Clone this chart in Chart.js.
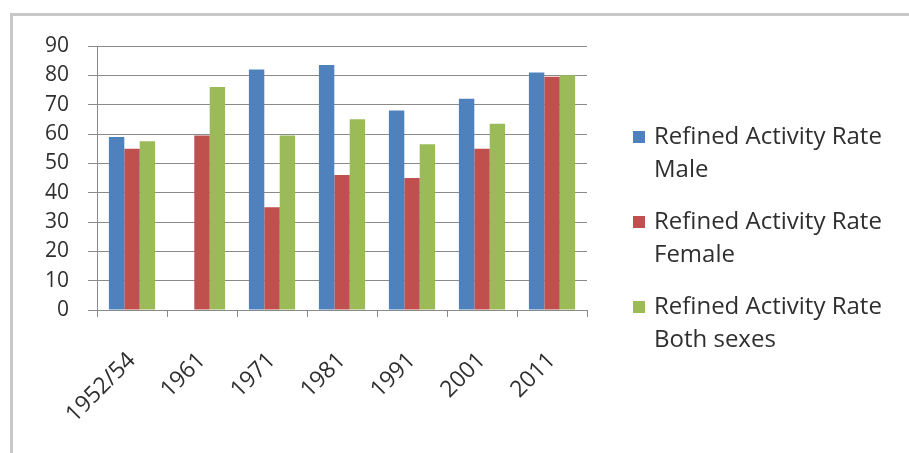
<!DOCTYPE html>
<html>
<head>
<meta charset="utf-8">
<script src="https://cdn.jsdelivr.net/npm/chart.js@4/dist/chart.umd.min.js"></script>
<style>
  html, body { margin: 0; padding: 0; background: #fff; }
  #wrap { width: 909px; height: 453px; position: relative; }
</style>
</head>
<body>
<div id="wrap"><canvas id="activityChart"></canvas></div>
<script>
const years = ['1952/54', '1961', '1971', '1981', '1991', '2001', '2011'];
const maleRate = [59, null, 82, 83.5, 68, 72, 81];
const femaleRate = [55, 59.5, 35, 46, 45, 55, 79.5];
const bothRate = [57.5, 76, 59.5, 65, 56.5, 63.5, 80];
const yTicks = [0, 10, 20, 30, 40, 50, 60, 70, 80, 90];

const seriesNames = [
    ['Refined Activity Rate', 'Male'],
    ['Refined Activity Rate', 'Female'],
    ['Refined Activity Rate', 'Both sexes']
];

const fontFamily = '"Open Sans", "DejaVu Sans", sans-serif';
const textColor = '#2f2f2f';
const gridColor = '#8a8a8a';

// light grey frame along the top and left edge
const framePlugin = {
    id: 'frame',
    beforeDraw(chart) {
        const c = chart.ctx;
        c.save();
        c.strokeStyle = '#c8c8c8';
        c.lineWidth = 3;
        c.beginPath();
        c.moveTo(909, 14.5);
        c.lineTo(11.5, 14.5);
        c.lineTo(11.5, 453);
        c.stroke();
        c.restore();
    }
};

// legend on the right, each label wrapped over two lines
const sideLegend = {
    id: 'sideLegend',
    afterDraw(chart) {
        const c = chart.ctx;
        c.save();
        c.font = '24px ' + fontFamily;
        c.textBaseline = 'middle';
        chart.data.datasets.forEach((ds, i) => {
            const y = 137 + i * 85;
            c.fillStyle = ds.backgroundColor;
            c.fillRect(633, y - 6, 12, 12);
            c.fillStyle = textColor;
            seriesNames[i].forEach((line, j) => {
                c.fillText(line, 654, y + j * 33);
            });
        });
        c.restore();
    }
};

new Chart(document.getElementById('activityChart'), {
    type: 'bar',
    data: {
        labels: years,
        datasets: [
            { label: seriesNames[0].join(' '), data: maleRate, backgroundColor: '#4f81bd' },
            { label: seriesNames[1].join(' '), data: femaleRate, backgroundColor: '#c0504d' },
            { label: seriesNames[2].join(' '), data: bothRate, backgroundColor: '#9bbb59' }
        ]
    },
    options: {
        responsive: true,
        maintainAspectRatio: false,
        animation: false,
        layout: { padding: { left: 0, right: 322, top: 46, bottom: 0 } },
        datasets: {
            bar: { barPercentage: 1, categoryPercentage: 0.66 }
        },
        plugins: {
            legend: { display: false },
            tooltip: { enabled: false }
        },
        scales: {
            x: {
                afterFit(scale) { scale.height = 143; },
                grid: {
                    offset: true,
                    drawOnChartArea: false,
                    drawTicks: true,
                    tickLength: 7,
                    color: gridColor
                },
                border: { color: gridColor, width: 1 },
                ticks: {
                    color: textColor,
                    font: { family: fontFamily, size: 23 },
                    minRotation: 45,
                    maxRotation: 45,
                    padding: 30
                }
            },
            y: {
                min: 0,
                max: 90,
                afterFit(scale) { scale.width = 97; },
                afterBuildTicks(scale) { scale.ticks = yTicks.map(v => ({ value: v })); },
                grid: {
                    color: gridColor,
                    tickLength: 9,
                    lineWidth: 1
                },
                border: { color: gridColor, width: 1 },
                ticks: {
                    color: textColor,
                    font: { family: fontFamily, size: 21 },
                    padding: 19
                }
            }
        }
    },
    plugins: [framePlugin, sideLegend]
});
</script>
</body>
</html>
